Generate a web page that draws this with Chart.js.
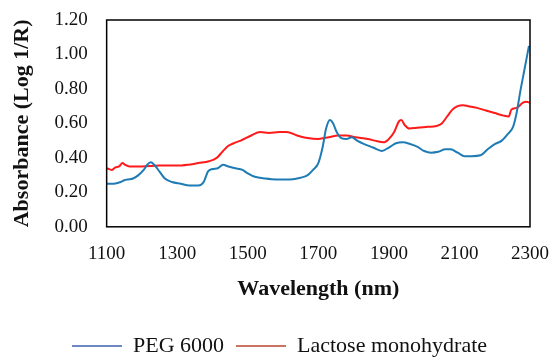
<!DOCTYPE html>
<html lang="en">
<head>
    <meta charset="UTF-8">
    <title>NIR spectra</title>
    <script src="https://cdn.jsdelivr.net/npm/chart.js"></script>
    <style>
        body {
            margin: 0;
            padding: 0;
            background-color: white;
        }

        .chart {
            width: 550px;
            height: 364px;
        }
    </style>
</head>
<body>
    <div class="chart"><canvas id="myChart"></canvas></div>

    <script>
        // wavelengths (nm) and absorbance
        const pegWave = [1100, 1120, 1140, 1150, 1160, 1175, 1190, 1205, 1215, 1225, 1235, 1250, 1265, 1285, 1310, 1335, 1360, 1375, 1387, 1400, 1415, 1430, 1445, 1465, 1485, 1500, 1520, 1550, 1580, 1620, 1650, 1670, 1685, 1700, 1712, 1722, 1733, 1742, 1752, 1765, 1780, 1795, 1810, 1830, 1855, 1880, 1900, 1920, 1940, 1960, 1980, 2000, 2020, 2040, 2060, 2075, 2095, 2115, 2135, 2160, 2180, 2200, 2220, 2238, 2252, 2262, 2272, 2285, 2297];
        const pegAbs = [0.25, 0.25, 0.26, 0.27, 0.275, 0.28, 0.30, 0.33, 0.36, 0.375, 0.36, 0.32, 0.28, 0.26, 0.25, 0.24, 0.24, 0.26, 0.32, 0.335, 0.34, 0.36, 0.35, 0.34, 0.33, 0.31, 0.29, 0.28, 0.275, 0.275, 0.285, 0.30, 0.33, 0.37, 0.46, 0.57, 0.62, 0.60, 0.55, 0.515, 0.51, 0.52, 0.50, 0.48, 0.46, 0.44, 0.46, 0.485, 0.49, 0.48, 0.465, 0.44, 0.43, 0.435, 0.45, 0.45, 0.43, 0.41, 0.41, 0.415, 0.45, 0.48, 0.50, 0.54, 0.58, 0.66, 0.78, 0.92, 1.05];

        const lacWave = [1100, 1115, 1125, 1135, 1145, 1152, 1165, 1200, 1250, 1300, 1330, 1360, 1390, 1412, 1430, 1445, 1460, 1480, 1510, 1535, 1560, 1590, 1610, 1640, 1670, 1700, 1730, 1756, 1780, 1805, 1840, 1860, 1885, 1900, 1915, 1928, 1935, 1945, 1958, 1980, 2010, 2035, 2050, 2065, 2080, 2095, 2110, 2125, 2150, 2175, 2200, 2225, 2240, 2247, 2262, 2280, 2290, 2300];
        const lacAbs = [0.34, 0.33, 0.345, 0.35, 0.37, 0.36, 0.35, 0.35, 0.355, 0.355, 0.36, 0.37, 0.38, 0.40, 0.44, 0.47, 0.485, 0.50, 0.53, 0.55, 0.545, 0.55, 0.55, 0.53, 0.515, 0.51, 0.52, 0.53, 0.53, 0.52, 0.51, 0.50, 0.49, 0.51, 0.55, 0.61, 0.62, 0.59, 0.57, 0.575, 0.58, 0.585, 0.60, 0.64, 0.68, 0.70, 0.705, 0.70, 0.69, 0.675, 0.66, 0.645, 0.64, 0.68, 0.69, 0.72, 0.725, 0.72];

        const seriesNames = ['PEG 6000', 'Lactose monohydrate'];
        const lineColors = ['#1f7bb4', '#ff1a1a'];
        const legendColors = ['#3f5fae', '#b8452a'];

        function toPoints(xs, ys) {
            return xs.map((x, i) => ({ x: x, y: ys[i] }));
        }

        // black box round the plot area
        const frame = {
            id: 'frame',
            afterDraw(chart) {
                const a = chart.chartArea;
                const c = chart.ctx;
                c.save();
                c.strokeStyle = '#000';
                c.lineWidth = 1.5;
                c.strokeRect(a.left, a.top, a.right - a.left, a.bottom - a.top);
                c.restore();
            }
        };

        const serif = 'Liberation Serif';

        const ctx = document.getElementById('myChart').getContext('2d');
        new Chart(ctx, {
            type: 'line',
            data: {
                datasets: [
                    {
                        label: seriesNames[0],
                        data: toPoints(pegWave, pegAbs),
                        borderColor: lineColors[0],
                        backgroundColor: lineColors[0],
                        borderWidth: 2,
                        pointRadius: 0,
                        cubicInterpolationMode: 'monotone'
                    },
                    {
                        label: seriesNames[1],
                        data: toPoints(lacWave, lacAbs),
                        borderColor: lineColors[1],
                        backgroundColor: lineColors[1],
                        borderWidth: 2,
                        pointRadius: 0,
                        cubicInterpolationMode: 'monotone'
                    }
                ]
            },
            options: {
                responsive: true,
                maintainAspectRatio: false,
                animation: false,
                layout: {
                    padding: { left: 9, right: 0, top: 20, bottom: -3 }
                },
                plugins: {
                    tooltip: { enabled: false },
                    legend: {
                        position: 'bottom',
                        labels: {
                            usePointStyle: true,
                            pointStyle: 'line',
                            pointStyleWidth: 50,
                            padding: 12,
                            color: '#111',
                            font: { family: serif, size: 22 },
                            generateLabels(chart) {
                                const items = Chart.defaults.plugins.legend.labels.generateLabels(chart);
                                items.forEach((it, i) => {
                                    it.strokeStyle = legendColors[i];
                                    it.fillStyle = legendColors[i];
                                    it.lineWidth = 1.5;
                                });
                                return items;
                            }
                        }
                    }
                },
                scales: {
                    x: {
                        type: 'linear',
                        min: 1100,
                        max: 2300,
                        grid: { display: false, drawTicks: true, tickLength: 15 },
                        border: { display: false },
                        ticks: {
                            stepSize: 200,
                            padding: 1,
                            color: '#111',
                            font: { family: serif, size: 19 },
                            callback: v => String(v)
                        },
                        title: {
                            display: true,
                            text: 'Wavelength (nm)',
                            color: '#111',
                            font: { family: serif, size: 22, weight: 'bold' },
                            padding: { top: 10, bottom: 20 }
                        }
                    },
                    y: {
                        min: 0,
                        max: 1.2,
                        grid: { display: false, drawTicks: true, tickLength: 16 },
                        border: { display: false },
                        ticks: {
                            stepSize: 0.2,
                            padding: 3,
                            color: '#111',
                            font: { family: serif, size: 19 },
                            callback: v => v.toFixed(2)
                        },
                        title: {
                            display: true,
                            text: 'Absorbance (Log 1/R)',
                            color: '#111',
                            font: { family: serif, size: 22, weight: 'bold' },
                            padding: { top: 0, bottom: 16 }
                        }
                    }
                }
            },
            plugins: [frame]
        });
    </script>
</body>
</html>
